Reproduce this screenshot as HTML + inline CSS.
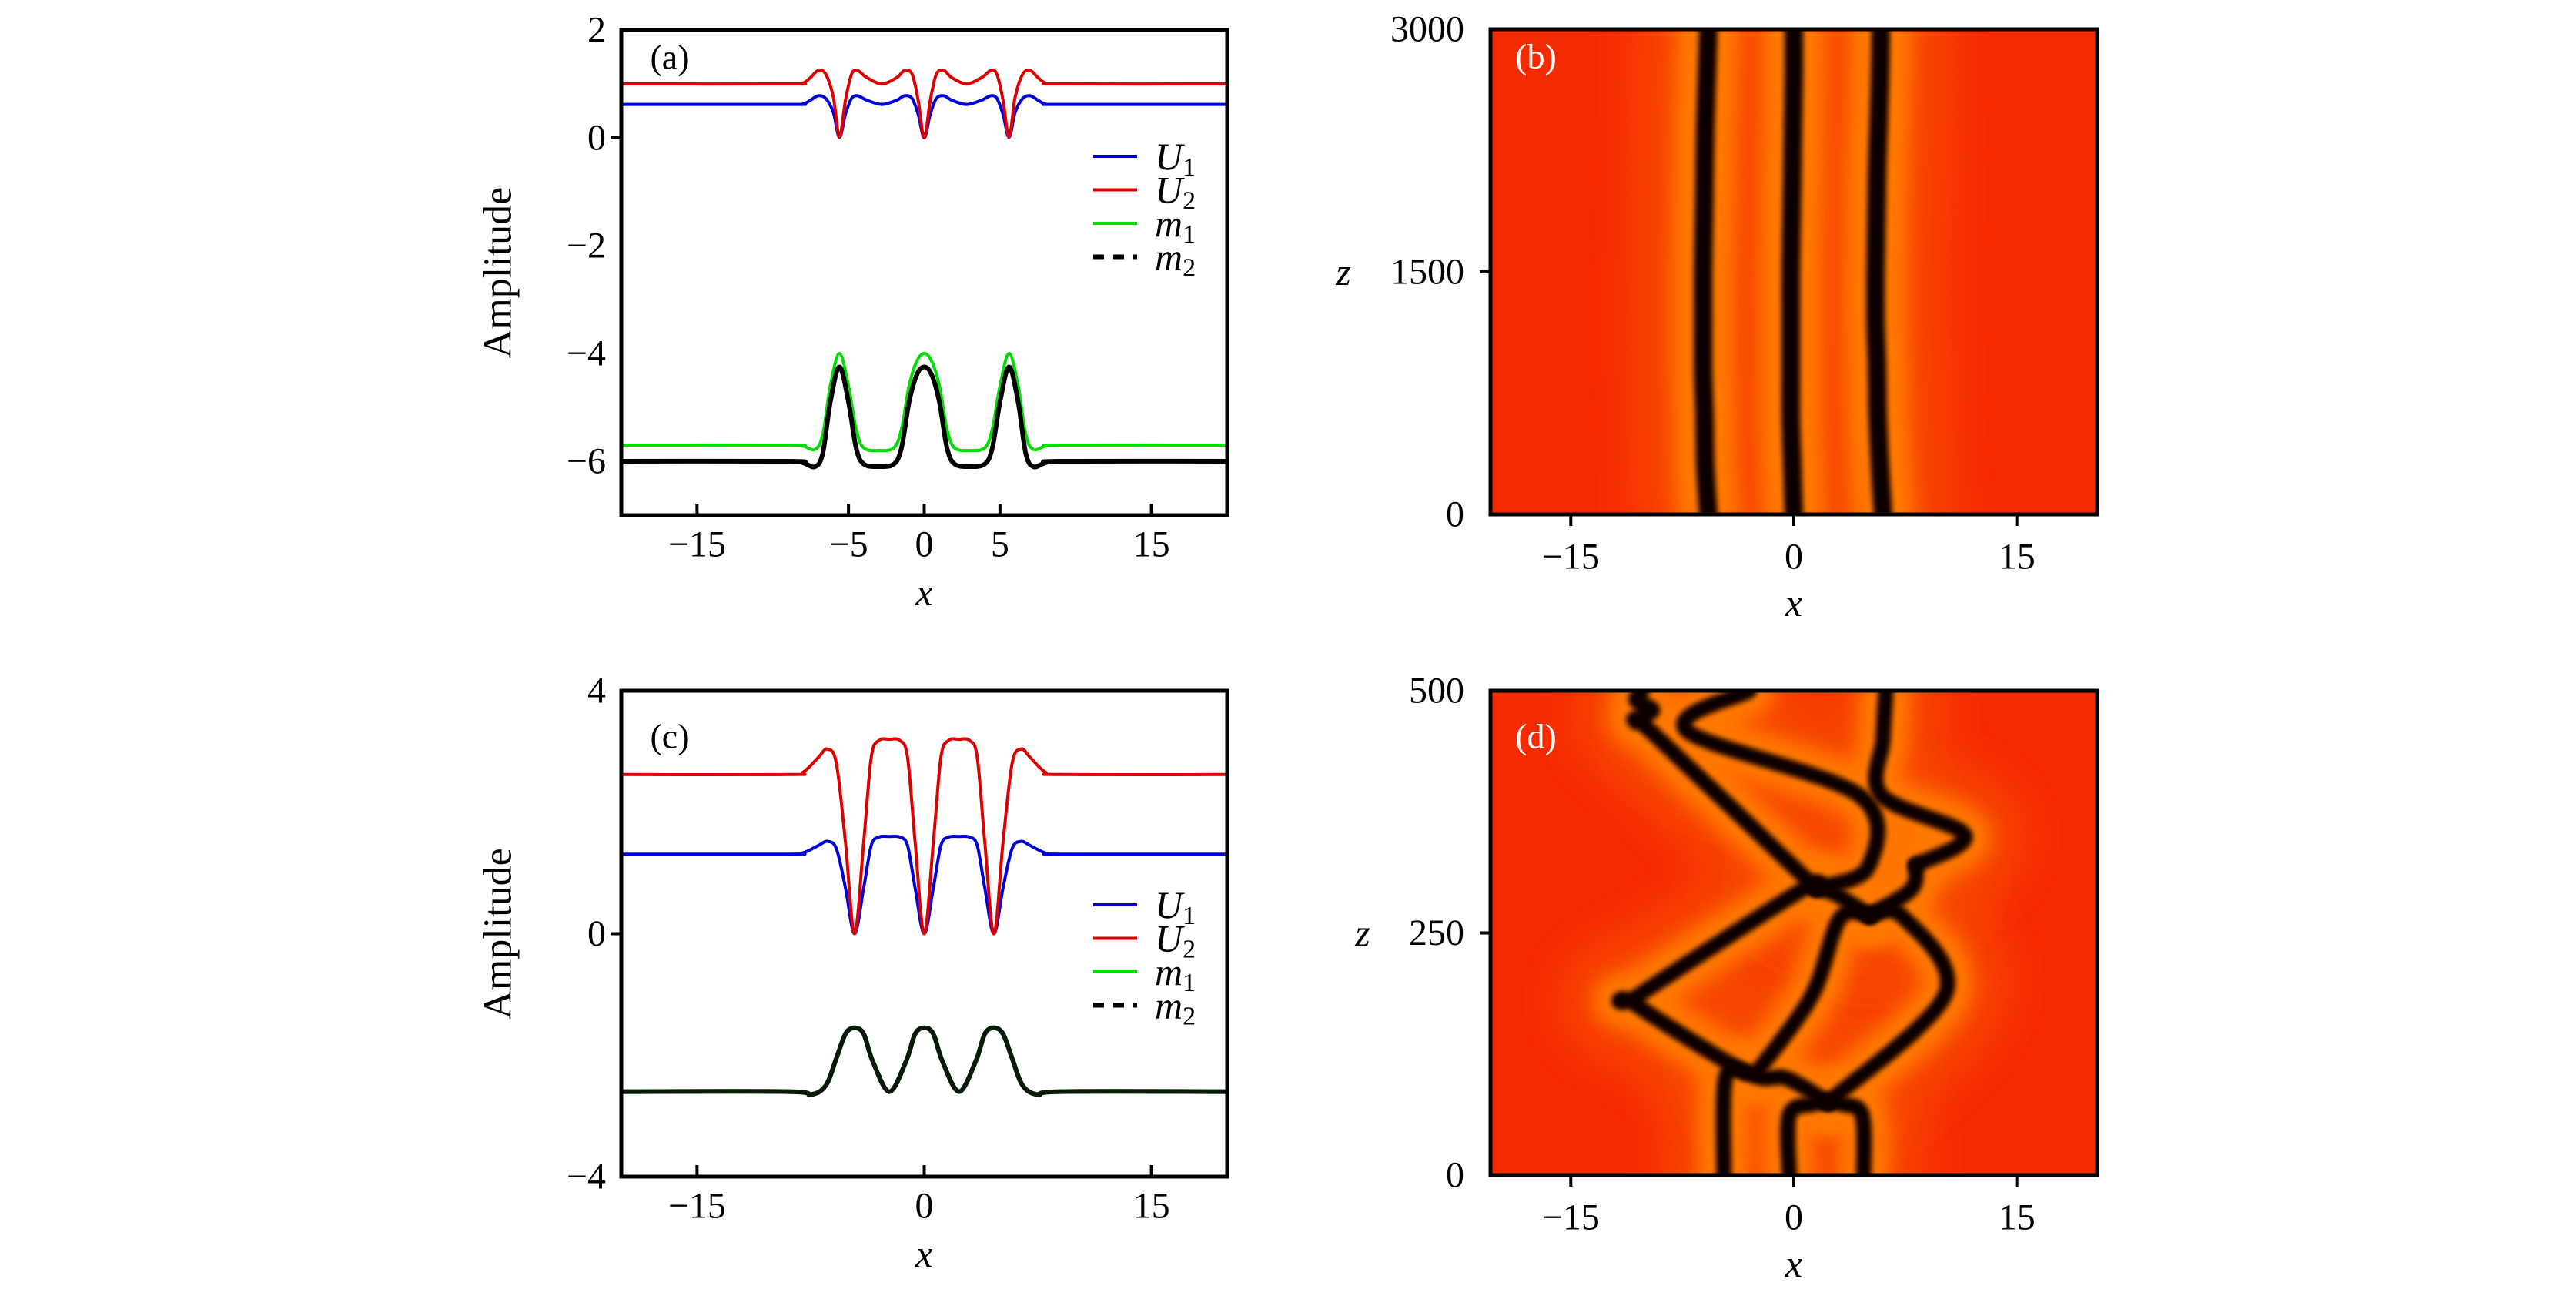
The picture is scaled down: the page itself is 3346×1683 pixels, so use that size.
<!DOCTYPE html>
<html><head><meta charset="utf-8">
<style>
html,body{margin:0;padding:0;background:#fff;}
svg{display:block;}
text{font-family:"Liberation Serif",serif;fill:#000;}
</style></head>
<body>
<svg id="fig" width="3346" height="1683" viewBox="0 0 3346 1683" xmlns="http://www.w3.org/2000/svg">
<defs>
<filter id="blurO" filterUnits="userSpaceOnUse" x="0" y="0" width="3346" height="1683"><feGaussianBlur stdDeviation="12"/></filter>
<filter id="blurK" filterUnits="userSpaceOnUse" x="0" y="0" width="3346" height="1683"><feGaussianBlur stdDeviation="3.5"/></filter>
<filter id="blurW" filterUnits="userSpaceOnUse" x="0" y="0" width="3346" height="1683"><feGaussianBlur stdDeviation="30"/></filter>
<clipPath id="clipB"><rect x="1936" y="38" width="788" height="630"/></clipPath>
<clipPath id="clipD"><rect x="1936" y="897" width="788" height="629"/></clipPath>
</defs>
</svg>
<script>
// ---------- data: panel (a) ----------
const aU_x = [-20,-9,-8,-7.5,-7,-6.5,-6,-5.6,-5.2,-4.8,-4.4,-3.8,-2.8,-1.8,-1.3,-0.8,-0.4,0,0.4,0.8,1.3,1.8,2.8,3.8,4.4,4.8,5.2,5.6,6,6.5,7,7.5,8,9,20];
const aU2 = [1.0,1.0,1.02,1.12,1.25,1.18,0.75,0.02,0.7,1.18,1.25,1.12,1.0,1.12,1.25,1.18,0.7,0.0,0.7,1.18,1.25,1.12,1.0,1.12,1.25,1.18,0.7,0.02,0.75,1.18,1.25,1.12,1.02,1.0,1.0];
const aU1 = [0.62,0.62,0.63,0.70,0.78,0.73,0.47,0.01,0.44,0.73,0.78,0.70,0.62,0.70,0.78,0.73,0.44,0.0,0.44,0.73,0.78,0.70,0.62,0.70,0.78,0.73,0.44,0.01,0.47,0.73,0.78,0.70,0.63,0.62,0.62];
const aM_x = [-20,-9,-8,-7.2,-6.7,-6.2,-5.6,-5.0,-4.5,-4.0,-3.0,-2.0,-1.5,-1.0,-0.5,0,0.5,1.0,1.5,2.0,3.0,4.0,4.5,5.0,5.6,6.2,6.7,7.2,8,9,20];
const aM1 = [-5.7,-5.7,-5.72,-5.78,-5.5,-4.6,-4.0,-4.6,-5.4,-5.75,-5.8,-5.75,-5.4,-4.6,-4.15,-4.0,-4.15,-4.6,-5.4,-5.75,-5.8,-5.75,-5.4,-4.6,-4.0,-4.6,-5.5,-5.78,-5.72,-5.7,-5.7];
const aM2 = [-6.0,-6.0,-6.03,-6.1,-5.85,-4.9,-4.25,-4.9,-5.75,-6.05,-6.1,-6.05,-5.75,-4.9,-4.4,-4.25,-4.4,-4.9,-5.75,-6.05,-6.1,-6.05,-5.75,-4.9,-4.25,-4.9,-5.85,-6.1,-6.03,-6.0,-6.0];
// ---------- data: panel (c) ----------
const cU_x = [-20,-9,-8,-7,-6.4,-5.8,-5.2,-4.6,-4.0,-3.5,-3.0,-2.3,-1.6,-1.1,-0.6,0,0.6,1.1,1.6,2.3,3.0,3.5,4.0,4.6,5.2,5.8,6.4,7,8,9,20];
const cU2 = [2.62,2.62,2.66,2.9,3.04,2.8,1.5,0.0,1.5,2.9,3.18,3.2,3.18,2.9,1.5,0.0,1.5,2.9,3.18,3.2,3.18,2.9,1.5,0.0,1.5,2.8,3.04,2.9,2.66,2.62,2.62];
const cU1 = [1.31,1.31,1.33,1.45,1.52,1.4,0.75,0.0,0.75,1.45,1.59,1.6,1.59,1.45,0.75,0.0,0.75,1.45,1.59,1.6,1.59,1.45,0.75,0.0,0.75,1.4,1.52,1.45,1.33,1.31,1.31];
const cM_x = [-20,-9,-7.5,-6.5,-5.8,-5.2,-4.6,-4.0,-3.4,-2.3,-1.2,-0.6,0,0.6,1.2,2.3,3.4,4.0,4.6,5.2,5.8,6.5,7.5,9,20];
const cM1 = [-2.6,-2.6,-2.65,-2.5,-2.05,-1.65,-1.55,-1.65,-2.1,-2.6,-2.1,-1.65,-1.55,-1.65,-2.1,-2.6,-2.1,-1.65,-1.55,-1.65,-2.05,-2.5,-2.65,-2.6,-2.6];
const cM2 = [-2.6,-2.6,-2.65,-2.5,-2.05,-1.65,-1.55,-1.65,-2.1,-2.6,-2.1,-1.65,-1.55,-1.65,-2.1,-2.6,-2.1,-1.65,-1.55,-1.65,-2.05,-2.5,-2.65,-2.6,-2.6];
// ---------- data: panel (b) soliton tracks (x at z) ----------
const bZ = [0,300,600,900,1200,1500,1800,2100,2400,2700,3000];
const bTrackL = [-5.75,-5.95,-6.0,-6.1,-6.1,-6.1,-6.05,-6.0,-5.95,-5.85,-5.75];
const bTrackC = [0,-0.1,-0.2,-0.2,-0.2,-0.2,-0.15,-0.1,-0.05,0,0];
const bTrackR = [6.0,5.8,5.65,5.6,5.5,5.5,5.55,5.6,5.7,5.8,5.85];
// ---------- data: panel (d) soliton tracks [x, z] ----------
const dTracks = [
 [[-4.7,0],[-4.6,100],[-3.2,106]],
 [[-0.3,0],[-0.3,62],[1.2,73],[2.3,75]],
 [[4.7,0],[4.6,62],[3.3,73],[2.3,75]],
 [[2.3,75],[-0.5,100],[-3.2,106],[-10.8,178],[-10.4,186],[0.5,294],[1.5,296]],
 [[-2.5,106],[1.2,185],[3.1,265],[5.1,268]],
 [[2.3,75],[10.2,187],[7.3,267],[5.1,268]],
 [[5.1,268],[2.8,290],[1.5,296]],
 [[5.1,268],[7.9,295],[8.2,320]],
 [[1.5,296],[-9.4,455],[-10.6,468],[-9.5,480],[-10.6,490],[-10.2,500]],
 [[8.2,320],[11.5,351],[5.9,392],[6.0,450],[6.2,500]],
 [[1.5,296],[5.0,318],[4.4,392],[-7.2,459],[-3,500]]
];
const xTicksA = [-15,-5,0,5,15];
const yTicksA = [2,0,-2,-4,-6];
const xTicksC = [-15,0,15];
const yTicksC = [4,0,-4];
const xTicksH = [-15,0,15];
const zTicksB = [0,1500,3000];
const zTicksD = [0,250,500];

const NS = "http://www.w3.org/2000/svg";
const svg = document.getElementById('fig');
function mk(tag, attrs, parent){ const e=document.createElementNS(NS,tag); for(const k in attrs) e.setAttribute(k,attrs[k]); (parent||svg).appendChild(e); return e; }
function lin(d0,d1,r0,r1){ return v=>r0+(v-d0)/(d1-d0)*(r1-r0); }
function fmt(v){ return v<0 ? '\u2212'+Math.abs(v) : String(v); }
function smoothPath(pts){
  let d='M'+pts[0][0].toFixed(1)+','+pts[0][1].toFixed(1);
  for(let i=0;i<pts.length-1;i++){
    const p0=pts[Math.max(0,i-1)],p1=pts[i],p2=pts[i+1],p3=pts[Math.min(pts.length-1,i+2)];
    const c1=[p1[0]+(p2[0]-p0[0])/6,p1[1]+(p2[1]-p0[1])/6];
    const c2=[p2[0]-(p3[0]-p1[0])/6,p2[1]-(p3[1]-p1[1])/6];
    d+=' C'+c1[0].toFixed(1)+','+c1[1].toFixed(1)+' '+c2[0].toFixed(1)+','+c2[1].toFixed(1)+' '+p2[0].toFixed(1)+','+p2[1].toFixed(1);
  }
  return d;
}
function txt(x,y,s,size,anchor,parent,name,italic,fill){
  const t=mk('text',{x:x,y:y,'font-size':size,'text-anchor':anchor||'middle','dominant-baseline':'central'},parent);
  if(italic) t.setAttribute('font-style','italic');
  if(fill) t.setAttribute('style','fill:'+fill);
  t.textContent=s;
  
  
  return t;
}

function linePanel(cfg){
  const g=mk('g',{});
  
  
  const X=lin(cfg.xd[0],cfg.xd[1],cfg.L,cfg.R), Y=lin(cfg.yd[0],cfg.yd[1],cfg.B,cfg.T);
  cfg.series.forEach(s=>{
    const pts=s.xs.map((x,i)=>[X(x),Y(s.ys[i])]);
    const p=mk('path',{d:smoothPath(pts),fill:'none',stroke:s.color,'stroke-width':s.w,'stroke-linejoin':'round'},g);
    if(s.dash) p.setAttribute('stroke-dasharray',s.dash);
    
    
  });
  const fr=mk('rect',{x:cfg.L,y:cfg.T,width:cfg.R-cfg.L,height:cfg.B-cfg.T,fill:'none',stroke:'#000','stroke-width':5},g);
  
  
  cfg.xt.forEach(v=>{
    const tk=mk('line',{x1:X(v),x2:X(v),y1:cfg.B,y2:cfg.B-15,stroke:'#000','stroke-width':4},g);
    
    
    txt(X(v),cfg.B+38,fmt(v),48,'middle',g,'x-tick-label');
  });
  cfg.yt.forEach(v=>{
    if(v===0){
      const tk=mk('line',{x1:cfg.L,x2:cfg.L-14,y1:Y(v),y2:Y(v),stroke:'#000','stroke-width':4},g);
      
      
    }
    txt(cfg.L-20,Y(v),fmt(v),48,'end',g,'y-tick-label');
  });
  txt((cfg.L+cfg.R)/2,cfg.B+100,'x',50,'middle',g,'x-axis-title',true);
  const yl=txt(0,0,'Amplitude',52,'middle',g,'y-axis-title');
  yl.setAttribute('transform','translate('+(cfg.L-160)+','+((cfg.T+cfg.B)/2)+') rotate(-90)');
  txt(cfg.L+63,cfg.T+35+cfg.lblOff,cfg.label,46,'middle',g,'panel-label');
  const lg=mk('g',{},g);
  
  
  const ents=[['U','1','#0000dd',''],['U','2','#dd0000',''],['m','1','#00dd00',''],['m','2','#000','14,12']];
  ents.forEach((e,i)=>{
    const y=cfg.legY+i*43.5;
    const ln=mk('line',{x1:cfg.legX,x2:cfg.legX+57,y1:y,y2:y,stroke:e[2],'stroke-width':e[3]?6:4},lg);
    if(e[3]) ln.setAttribute('stroke-dasharray',e[3]);
    
    
    const t=txt(cfg.legX+80,y,'',50,'start',lg,'legend-entry',true);
    t.textContent=e[0];
    const sub=mk('tspan',{'font-size':34,'font-style':'normal',dy:14},t);
    sub.textContent=e[1];
  });
}

linePanel({name:'panel-a',L:807,R:1594,T:39,B:669,xd:[-20,20],yd:[-7,2],xt:xTicksA,yt:yTicksA,label:'(a)',lblOff:0,legX:1420,legY:203,
 series:[{xs:aU_x,ys:aU1,color:'#0000dd',w:4,name:'u1-line'},{xs:aU_x,ys:aU2,color:'#dd0000',w:4,name:'u2-line'},
 {xs:aM_x,ys:aM1,color:'#00dd00',w:4,name:'m1-line'},{xs:aM_x,ys:aM2,color:'#000',w:6,name:'m2-line'}]});
linePanel({name:'panel-c',L:807,R:1594,T:897,B:1528,xd:[-20,20],yd:[-4,4],xt:xTicksC,yt:yTicksC,label:'(c)',lblOff:24,legX:1420,legY:1175,
 series:[{xs:cU_x,ys:cU1,color:'#0000dd',w:4,name:'u1-line'},{xs:cU_x,ys:cU2,color:'#dd0000',w:4,name:'u2-line'},
 {xs:cM_x,ys:cM1,color:'#00dd00',w:6,name:'m1-line'},{xs:cM_x,ys:cM2,color:'#0a1a0a',w:6,name:'m2-line'}]});

function heatPanel(cfg){
  const g=mk('g',{});
  
  
  const X=lin(-20.4,20.4,cfg.L,cfg.R), Y=lin(0,cfg.zmax,cfg.B,cfg.T);
  const hg=mk('g',{'clip-path':'url(#'+cfg.clip+')'},g);
  
  
  const bg=mk('rect',{x:cfg.L,y:cfg.T,width:cfg.R-cfg.L,height:cfg.B-cfg.T,fill:'#f42a00'},hg);
  
  
  const paths=cfg.tracks.map(tr=>smoothPath(tr.map(p=>[X(p[0]),Y(p[1])])));
  paths.forEach(d=>{
    const w=mk('path',{d:d,fill:'none',stroke:'#f84a00','stroke-width':cfg.ow*2.2,'stroke-linejoin':'round','stroke-linecap':'round',filter:'url(#blurW)'},hg);
    
    
  });
  paths.forEach(d=>{
    const o=mk('path',{d:d,fill:'none',stroke:'#ff7800','stroke-width':cfg.ow,'stroke-linejoin':'round','stroke-linecap':'round',filter:'url(#blurO)'},hg);
    
    
  });
  paths.forEach(d=>{
    const k=mk('path',{d:d,fill:'none',stroke:'#0a0000','stroke-width':cfg.kw,'stroke-linejoin':'round','stroke-linecap':'round',filter:'url(#blurK)'},hg);
    
    
  });
  const fr=mk('rect',{x:cfg.L,y:cfg.T,width:cfg.R-cfg.L,height:cfg.B-cfg.T,fill:'none',stroke:'#000','stroke-width':5},g);
  
  
  xTicksH.forEach(v=>{
    const tk=mk('line',{x1:X(v),x2:X(v),y1:cfg.B,y2:cfg.B+15,stroke:'#000','stroke-width':4},g);
    
    
    txt(X(v),cfg.B+55,fmt(v),48,'middle',g,'x-tick-label');
  });
  cfg.zt.forEach(v=>{
    if(v!==0 && v!==cfg.zmax){
      const tk=mk('line',{x1:cfg.L,x2:cfg.L-14,y1:Y(v),y2:Y(v),stroke:'#000','stroke-width':4},g);
      
      
    }
    txt(cfg.L-34,Y(v),String(v),48,'end',g,'y-tick-label');
  });
  txt((cfg.L+cfg.R)/2,cfg.B+115,'x',50,'middle',g,'x-axis-title',true);
  txt(cfg.zx,(cfg.T+cfg.B)/2,'z',50,'middle',g,'y-axis-title',true);
  txt(cfg.L+59,cfg.T+35+cfg.lblOff,cfg.label,46,'middle',g,'panel-label',false,'#fff');
}
const bTracks=[bTrackL,bTrackC,bTrackR].map(arr=>arr.map((x,i)=>[x,bZ[i]]));
heatPanel({name:'panel-b',L:1936,R:2724,T:38,B:668,zmax:3000,tracks:bTracks,zt:zTicksB,clip:'clipB',label:'(b)',lblOff:0,zx:1745,ow:80,kw:24});
heatPanel({name:'panel-d',L:1936,R:2724,T:897,B:1526,zmax:500,tracks:dTracks,zt:zTicksD,clip:'clipD',label:'(d)',lblOff:24,zx:1770,ow:66,kw:20});
</script>
</body></html>
